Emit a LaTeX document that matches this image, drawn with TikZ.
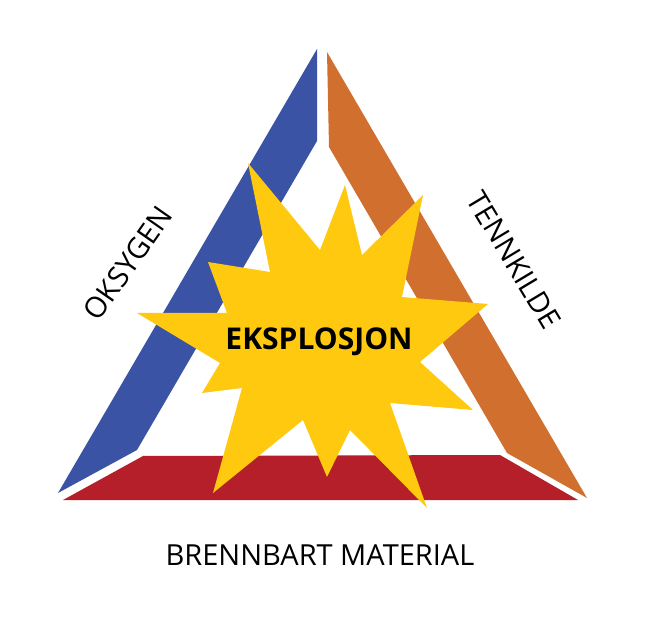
\documentclass[tikz,border=0pt]{standalone}
\usepackage{fontspec}
\setmainfont{Open Sans}
\definecolor{oxblue}{HTML}{3A53A4}
\definecolor{heatorange}{HTML}{D06F2E}
\definecolor{fuelred}{HTML}{B51F2A}
\definecolor{blastyellow}{HTML}{FEC90E}
\tikzset{
  side/.style={font=\fontsize{29}{29}\selectfont, inner sep=0pt},
  blast/.style={font=\fontsize{30}{30}\selectfont\bfseries, inner sep=0pt}
}
\begin{document}
\begin{tikzpicture}[x=1pt,y=-1pt]
  \useasboundingbox (0,0) rectangle (664,617);
  % the three sides
  \fill[oxblue] (317,49) -- (317,141) -- (137,450) -- (58,493) -- cycle;
  \fill[heatorange] (327,52) -- (329,147) -- (507,453) -- (587,498) -- cycle;
  \fill[fuelred] (143,456) -- (500,455) -- (578,500) -- (63,500) -- cycle;
  % the star
  \fill[blastyellow] (248,163) -- (320,250) -- (345,185) -- (362,255)
    -- (423,195) -- (402,297) -- (488,304) -- (420,362)
    -- (473,410) -- (390,403) -- (427,508) -- (350,430)
    -- (327,477) -- (303,420) -- (213,493) -- (242,388)
    -- (202,393) -- (220,363) -- (137,313) -- (227,313)
    -- (208,262) -- (270,272) -- cycle;
  \draw
    (319,342) node[blast] (eksplosjon) {EKSPLOSJON}
    (128,263) node[side, rotate=55] (oksygen) {OKSYGEN}
    (514,260) node[side, rotate=-59] (tennkilde) {TENNKILDE}
    (320,555) node[side] (brennbart) {BRENNBART MATERIAL};
\end{tikzpicture}
\end{document}
